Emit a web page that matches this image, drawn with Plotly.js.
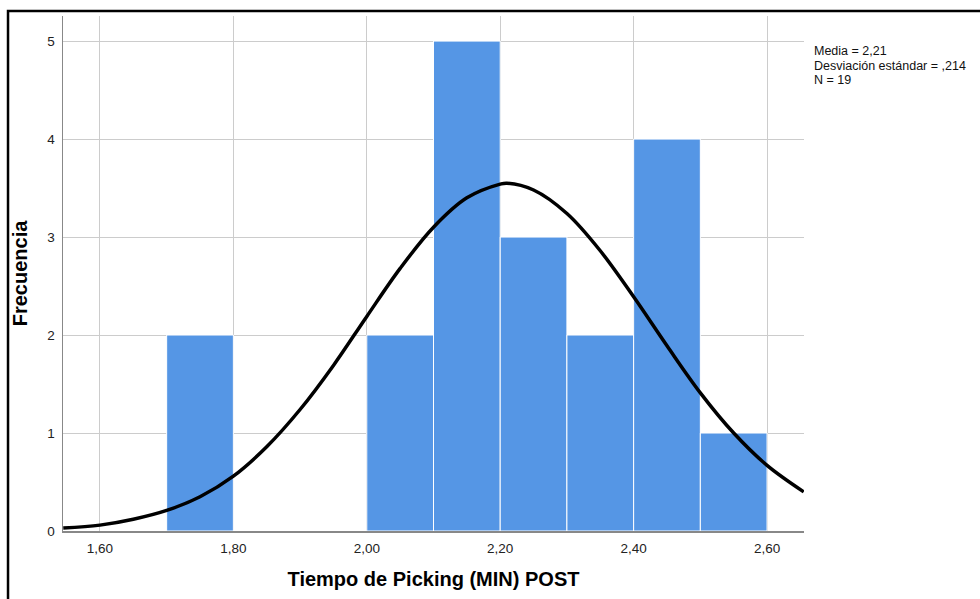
<!DOCTYPE html>
<html>
<head>
<meta charset="utf-8">
<script src="https://cdn.plot.ly/plotly-3.0.1.min.js"></script>
<style>
  html, body { margin: 0; padding: 0; background: #ffffff; }
  #chart { width: 980px; height: 599px; }
</style>
</head>
<body>
<div id="chart"></div>
<script>
// Histogram of picking times (minutes), bins of 0.10
const binCenters = [1.75, 1.85, 1.95, 2.05, 2.15, 2.25, 2.35, 2.45, 2.55];
const binCounts  = [2, 0, 0, 2, 5, 3, 2, 4, 1];
const binWidth = 0.1;

// Fitted normal curve (frequency scale), sampled along the axis
const curveX = [1.545, 1.60, 1.65, 1.70, 1.75, 1.80, 1.85, 1.90, 1.95, 2.00, 2.05, 2.10,
                2.15, 2.20, 2.21, 2.25, 2.30, 2.35, 2.40, 2.45, 2.50, 2.55, 2.60, 2.655];
const curveY = [0.03, 0.06, 0.12, 0.21, 0.35, 0.56, 0.86, 1.24, 1.69, 2.19, 2.68, 3.10,
                3.40, 3.54, 3.55, 3.48, 3.24, 2.86, 2.39, 1.89, 1.41, 1.00, 0.67, 0.40];

const xTicks = [1.6, 1.8, 2.0, 2.2, 2.4, 2.6];
const yTicks = [0, 1, 2, 3, 4, 5];

const statLines = ['Media = 2,21', 'Desviación estándar = ,214', 'N = 19'];

const FONT = 'Liberation Sans, Arial, sans-serif';

const traces = [
  {
    type: 'bar',
    x: binCenters,
    y: binCounts,
    width: binWidth,
    marker: { color: '#5596e5', line: { color: '#ffffff', width: 1 } },
    hoverinfo: 'x+y'
  },
  {
    type: 'scatter',
    mode: 'lines',
    x: curveX,
    y: curveY,
    line: { color: '#000000', width: 3.5, shape: 'spline', smoothing: 1 },
    hoverinfo: 'skip',
    cliponaxis: false
  }
];

// Summary statistics, one line each, stacked beside the plot
const annotations = statLines.map((t, i) => ({
  xref: 'paper', yref: 'paper',
  x: 1.0108, y: 1 - (35 + i * 14.5) / 515,
  xanchor: 'left', yanchor: 'middle',
  text: t, showarrow: false,
  font: { family: FONT, size: 12.5, color: '#111111' }
}));

const layout = {
  width: 980, height: 599,
  margin: { l: 63, r: 176, t: 16, b: 68 },
  paper_bgcolor: '#ffffff',
  plot_bgcolor: '#ffffff',
  showlegend: false,
  bargap: 0,
  separators: ',.',
  font: { family: FONT, color: '#222222' },
  xaxis: {
    range: [1.5446, 2.6554],
    tickvals: xTicks,
    tickformat: '.2f',
    ticks: '',
    showgrid: true,
    gridcolor: '#cccccc',
    gridwidth: 1,
    zeroline: false,
    showline: true,
    linecolor: '#888888',
    linewidth: 1.5,
    tickfont: { family: FONT, size: 13.5, color: '#222222' },
    ticklabelstandoff: 4,
    title: { text: 'Tiempo de Picking (MIN) POST', font: { family: FONT, size: 20, color: '#000000', weight: 'bold' }, standoff: 17 }
  },
  yaxis: {
    range: [0, 5.256],
    tickvals: yTicks,
    ticks: '',
    showgrid: true,
    gridcolor: '#cccccc',
    gridwidth: 1,
    zeroline: false,
    showline: true,
    linecolor: '#888888',
    linewidth: 1.5,
    tickfont: { family: FONT, size: 13.5, color: '#222222' },
    ticklabelstandoff: 4,
    title: { text: 'Frecuencia', font: { family: FONT, size: 20, color: '#000000', weight: 'bold' }, standoff: 14 }
  },
  annotations: annotations,
  shapes: [
    {
      type: 'rect', xref: 'paper', yref: 'paper',
      x0: -0.0742, x1: 1.5, y0: -0.5, y1: 1.0097,
      line: { color: '#000000', width: 2.5 },
      fillcolor: 'rgba(0,0,0,0)',
      layer: 'above'
    }
  ]
};

Plotly.newPlot('chart', traces, layout, { displayModeBar: false, staticPlot: true });
</script>
</body>
</html>
